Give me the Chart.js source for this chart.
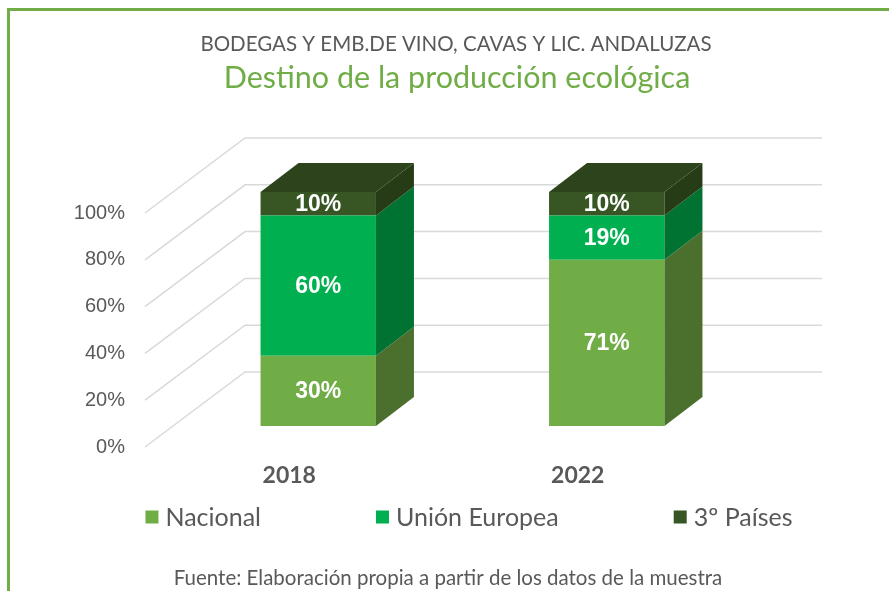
<!DOCTYPE html>
<html lang="es">
<head>
<meta charset="utf-8">
<title>Destino de la producción ecológica</title>
<script src="https://cdn.jsdelivr.net/npm/chart.js@4.4.1/dist/chart.umd.min.js"></script>
<style>
  html, body { margin: 0; padding: 0; background: #fff; }
  .wrap { position: relative; width: 889px; height: 591px; overflow: hidden; }
  .frame {
    position: absolute; left: 7px; top: 8px; width: 920px; height: 620px;
    border-left: 3px solid #70ad47; border-top: 3px solid #70ad47;
    pointer-events: none;
  }
</style>
</head>
<body>
<div class="wrap">
  <canvas id="destino" width="889" height="591"></canvas>
  <div class="frame"></div>
</div>
<script>
// data
const years = ["2018", "2022"];
const nacional = [30, 71];
const unionEuropea = [60, 19];
const tercerosPaises = [10, 10];
const seriesNames = ["Nacional", "Unión Europea", "3º Países"];
const yTicks = [0, 20, 40, 60, 80, 100];

const subtitleText = "BODEGAS Y EMB.DE VINO, CAVAS Y LIC. ANDALUZAS";
const titleText = "Destino de la producción ecológica";
const footerText = "Fuente: Elaboración propia a partir de los datos de la muestra";

const frontColors = ["#70ad47", "#00b050", "#375623"];
const sideColors = ["#4b6f2c", "#007231", "#263c17"];
const topColor = "#2c431b";
const gray = "#595959";

// fake 3d: back wall depth and bar placement inside it
const WALL = { dx: 100, dy: -75 };
const BAR_FRONT = { dx: 29, dy: -21 };
const BAR_DEPTH = { dx: 38, dy: -29 };

const fake3d = {
  id: "fake3d",
  beforeDatasetsDraw(chart) {
    const { ctx, chartArea, scales } = chart;
    ctx.save();
    ctx.strokeStyle = "#d9d9d9";
    ctx.lineWidth = 1.5;
    yTicks.forEach((v) => {
      const py = scales.y.getPixelForValue(v);
      ctx.beginPath();
      ctx.moveTo(chartArea.left, py);
      ctx.lineTo(chartArea.left + WALL.dx, py + WALL.dy);
      ctx.lineTo(chartArea.right + WALL.dx, py + WALL.dy);
      ctx.stroke();
    });
    ctx.restore();
    // front faces get pushed back into the box
    ctx.save();
    ctx.translate(BAR_FRONT.dx, BAR_FRONT.dy);
  },
  afterDatasetsDraw(chart) {
    const ctx = chart.ctx;
    const n = chart.data.datasets.length;
    chart.data.datasets.forEach((ds, i) => {
      chart.getDatasetMeta(i).data.forEach((bar, j) => {
        const { x, y, base, width } = bar.getProps(["x", "y", "base", "width"], true);
        const l = x - width / 2;
        const r = x + width / 2;
        ctx.fillStyle = sideColors[i];
        ctx.beginPath();
        ctx.moveTo(r, y);
        ctx.lineTo(r + BAR_DEPTH.dx, y + BAR_DEPTH.dy);
        ctx.lineTo(r + BAR_DEPTH.dx, base + BAR_DEPTH.dy);
        ctx.lineTo(r, base);
        ctx.closePath();
        ctx.fill();
        if (i === n - 1) {
          ctx.fillStyle = topColor;
          ctx.beginPath();
          ctx.moveTo(l, y);
          ctx.lineTo(l + BAR_DEPTH.dx, y + BAR_DEPTH.dy);
          ctx.lineTo(r + BAR_DEPTH.dx, y + BAR_DEPTH.dy);
          ctx.lineTo(r, y);
          ctx.closePath();
          ctx.fill();
        }
        ctx.fillStyle = "#ffffff";
        ctx.font = "bold 23px 'Liberation Sans', Arial, sans-serif";
        ctx.textAlign = "center";
        ctx.textBaseline = "middle";
        ctx.fillText(ds.data[j] + "%", x, (y + base) / 2 + 1);
      });
    });
    ctx.restore();
  },
  afterDraw(chart) {
    const ctx = chart.ctx;
    ctx.save();
    ctx.textAlign = "center";
    ctx.textBaseline = "middle";
    ctx.fillStyle = gray;
    ctx.font = "20.5px Lato, 'Open Sans', sans-serif";
    ctx.fillText(subtitleText, 456, 44, 515);
    ctx.fillStyle = "#70ad47";
    ctx.font = "30.5px Lato, 'Open Sans', sans-serif";
    ctx.fillText(titleText, 457, 78, 472);
    ctx.fillStyle = gray;
    ctx.font = "20.5px Lato, 'Open Sans', sans-serif";
    ctx.fillText(footerText, 448, 578, 554);

    // legend
    ctx.font = "25px Lato, 'Open Sans', sans-serif";
    ctx.textAlign = "left";
    const box = 13, gap = 7, spacing = 115;
    const widths = seriesNames.map((s) => box + gap + ctx.measureText(s).width);
    const total = widths.reduce((a, b) => a + b, 0) + spacing * (widths.length - 1);
    let cx = 469 - total / 2;
    const ly = 517;
    seriesNames.forEach((s, i) => {
      ctx.fillStyle = frontColors[i];
      ctx.fillRect(cx, ly - box / 2, box, box);
      ctx.fillStyle = gray;
      ctx.fillText(s, cx + box + gap, ly + 1);
      cx += widths[i] + spacing;
    });
    ctx.restore();
  }
};

const ctx = document.getElementById("destino").getContext("2d");
new Chart(ctx, {
  type: "bar",
  data: {
    labels: years,
    datasets: [
      { label: seriesNames[0], data: nacional, backgroundColor: frontColors[0], clip: false },
      { label: seriesNames[1], data: unionEuropea, backgroundColor: frontColors[1], clip: false },
      { label: seriesNames[2], data: tercerosPaises, backgroundColor: frontColors[2], clip: false },
    ],
  },
  options: {
    responsive: false,
    animation: false,
    devicePixelRatio: 1,
    layout: { padding: { top: 213, left: 0, right: 167, bottom: 104 } },
    datasets: { bar: { categoryPercentage: 1, barPercentage: 0.4, borderWidth: 0 } },
    plugins: {
      legend: { display: false },
      title: { display: false },
      tooltip: { enabled: false },
    },
    scales: {
      x: {
        stacked: true,
        grid: { display: false, drawTicks: false },
        border: { display: false },
        ticks: {
          padding: 15,
          color: gray,
          font: { family: "Lato, 'Open Sans', sans-serif", size: 23, weight: "bold" },
        },
        afterFit(scale) { scale.height = 40; },
      },
      y: {
        stacked: true,
        min: 0,
        max: 100,
        grid: { display: false, drawTicks: false },
        border: { display: false },
        ticks: {
          stepSize: 20,
          padding: 20,
          color: gray,
          font: { family: "'Liberation Sans', Arial, sans-serif", size: 20 },
          callback: (v) => v + "%",
        },
        afterFit(scale) { scale.width = 145; },
      },
    },
  },
  plugins: [fake3d],
});
</script>
</body>
</html>
